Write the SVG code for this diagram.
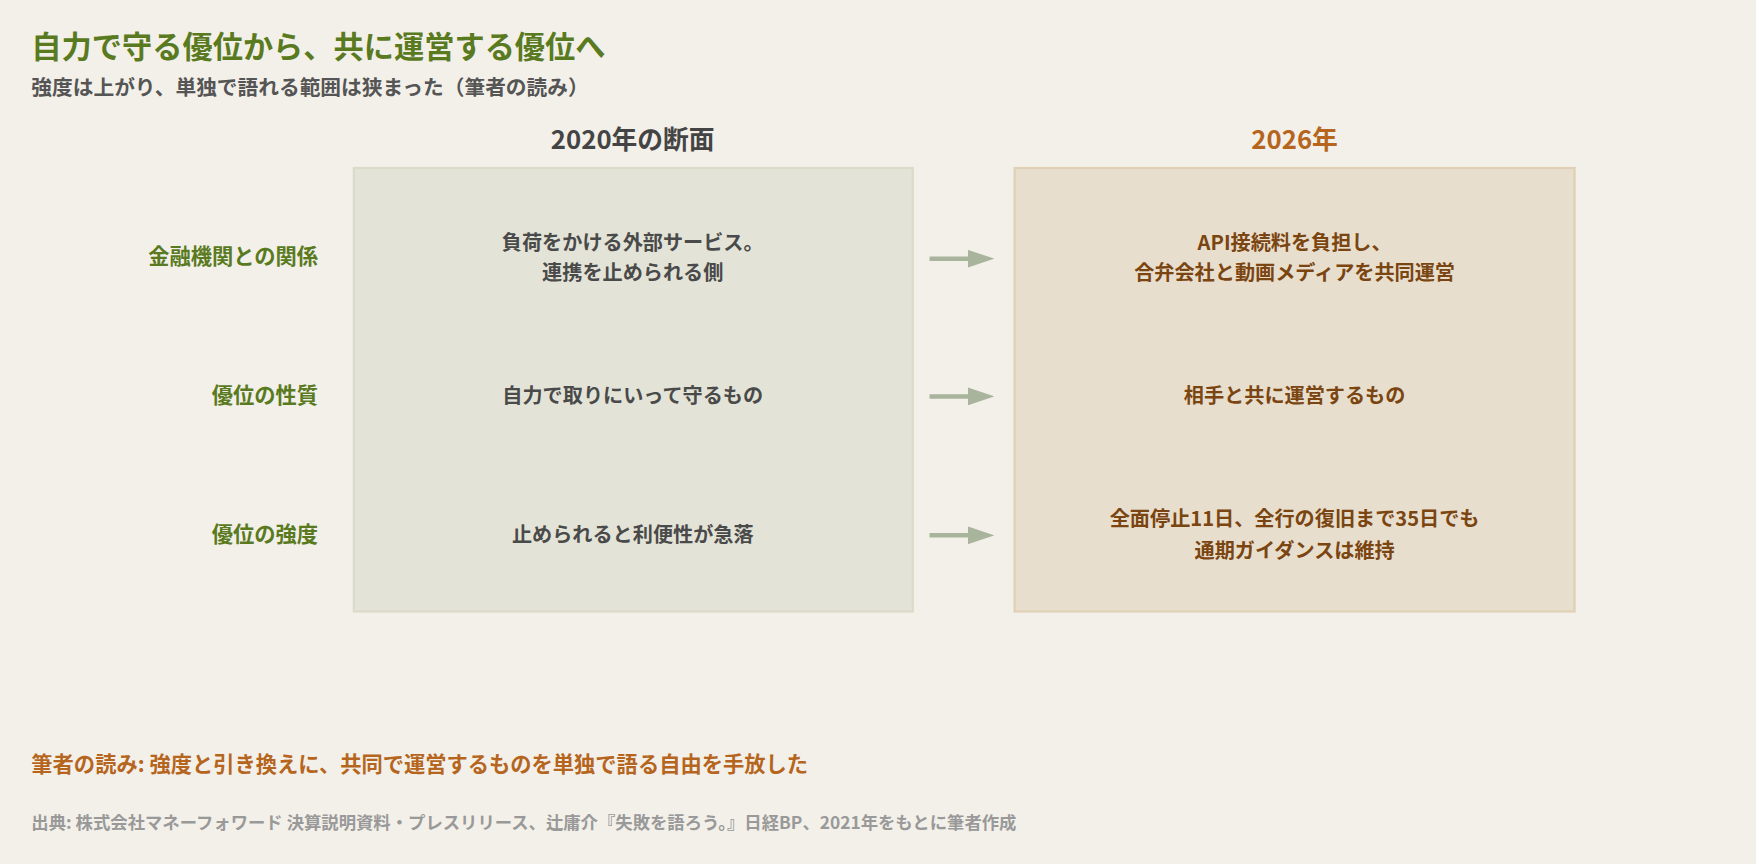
<svg xmlns="http://www.w3.org/2000/svg" width="1756" height="864" viewBox="0 0 1756 864">
<defs>
<style>
text{font-family:"Noto Sans CJK JP","Liberation Sans",sans-serif;font-weight:700}
.t{font-size:27px;fill:#5a7a1f}
.s{font-size:18.5px;fill:#555}
.h{font-size:23px;text-anchor:middle}
.rl{font-size:19px;fill:#5a7a1f;text-anchor:end}
.lt{font-size:18px;fill:#4a4a4a;text-anchor:middle}
.rt{font-size:18px;fill:#7a4510;text-anchor:middle}
.c{stroke:#a9b49c;stroke-width:4;marker-end:url(#ah)}
</style>
<marker id="ah" markerWidth="6" markerHeight="4" refX="1" refY="2" orient="auto" markerUnits="strokeWidth"><path d="M0,0L6,2L0,4z" fill="#a9b49c"/></marker>
</defs>
<rect width="1756" height="864" fill="#f3f0e9"/>
<g transform="scale(1.1199)">
<g id="header">
<text class="t" x="28" y="52">自力で守る優位から、共に運営する優位へ</text>
<text class="s" x="28" y="85">強度は上がり、単独で語れる範囲は狭まった（筆者の読み）</text>
</g>
<g id="box2020">
<text class="h" x="565" y="133" fill="#444">2020年の断面</text>
<rect x="316" y="150" width="499" height="396" fill="#e3e4d7" stroke="#dadbc9" stroke-width="2"/>
<text class="lt" x="565" y="223">負荷をかける外部サービス。</text>
<text class="lt" x="565" y="250">連携を止められる側</text>
<text class="lt" x="565" y="360">自力で取りにいって守るもの</text>
<text class="lt" x="565" y="484">止められると利便性が急落</text>
</g>
<g id="box2026">
<text class="h" x="1156" y="133" fill="#b5651d">2026年</text>
<rect x="906" y="150" width="500" height="396" fill="#e8dece" stroke="#e0d0b6" stroke-width="2"/>
<text class="rt" x="1156" y="223">API接続料を負担し、</text>
<text class="rt" x="1156" y="250">合弁会社と動画メディアを共同運営</text>
<text class="rt" x="1156" y="360">相手と共に運営するもの</text>
<text class="rt" x="1156" y="470">全面停止11日、全行の復旧まで35日でも</text>
<text class="rt" x="1156" y="498">通期ガイダンスは維持</text>
</g>
<g id="rowlabels">
<text class="rl" x="284" y="236">金融機関との関係</text>
<text class="rl" x="284" y="360">優位の性質</text>
<text class="rl" x="284" y="484">優位の強度</text>
</g>
<g id="connectors">
<line class="c" x1="830" y1="231" x2="868" y2="231"/>
<line class="c" x1="830" y1="354" x2="868" y2="354"/>
<line class="c" x1="830" y1="478" x2="868" y2="478"/>
</g>
<g id="footer">
<text x="28" y="689" font-size="19" fill="#b5651d">筆者の読み: 強度と引き換えに、共同で運営するものを単独で語る自由を手放した</text>
<text x="28" y="740" font-size="15.5" fill="#999">出典: 株式会社マネーフォワード 決算説明資料・プレスリリース、辻庸介『失敗を語ろう。』日経BP、2021年をもとに筆者作成</text>
</g>
</g>
</svg>
